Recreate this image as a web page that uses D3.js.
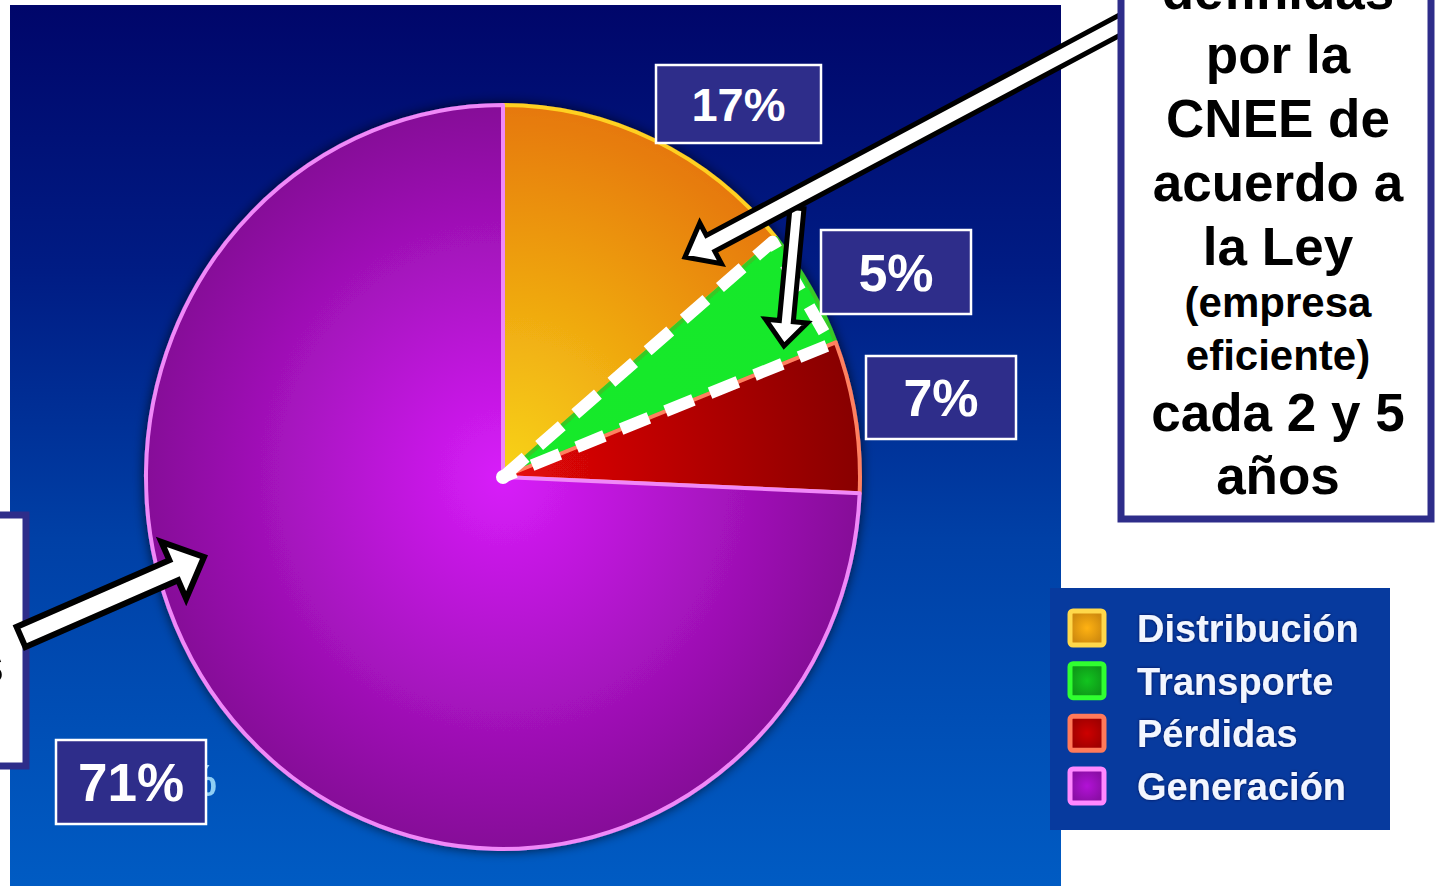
<!DOCTYPE html>
<html>
<head>
<meta charset="utf-8">
<script src="https://cdn.jsdelivr.net/npm/d3@7"></script>
<style>
  html, body { margin: 0; padding: 0; background: #fff; overflow: hidden; }
  svg { display: block; }
  text { font-family: "Liberation Sans", Arial, sans-serif; font-weight: bold; }
</style>
</head>
<body>
<svg id="chart" width="1435" height="886"></svg>
<script>
// Data
const categories = ['Distribución', 'Transporte', 'Pérdidas', 'Generación']
// slice sizes as they are drawn (percent of the full circle)
const sliceShare = [13.9, 5.2, 6.6, 74.3]
// percentages written in the label boxes
const shareLabels = ['17%', '5%', '7%', '71%']
// text of the note box on the right (first line is cut by the top edge)
const noteLines = ['definidas', 'por la', 'CNEE de', 'acuerdo a', 'la Ley', '(empresa', 'eficiente)', 'cada 2 y 5', 'años']
const noteSmall = [false, false, false, false, false, true, true, false, false]

// Styles per category
const sliceStyle = {
  'Distribución': { inner: '#f8d418', outer: '#e67808', rim: '#ffd020', box: '#ffd84a', boxFill: '#f0a010' },
  'Transporte': { inner: '#12ea2a', outer: '#12e82a', rim: '#38c828', box: '#30ff30', boxFill: '#10b01c' },
  'Pérdidas': { inner: '#e80808', outer: '#880000', rim: '#ff8060', box: '#ff7a5a', boxFill: '#b80000' },
  'Generación': { inner: '#d81cfa', outer: '#860c98', rim: '#f088f8', box: '#ff88ff', boxFill: '#a010c0' }
}

const data = categories.map((c, i) => ({ name: c, share: sliceShare[i], label: shareLabels[i] }))

const svg = d3.select('#chart')
const defs = svg.append('defs')

// Background gradient of the slide area
const bg = defs.append('linearGradient').attr('id', 'bgGrad')
  .attr('x1', 0).attr('y1', 0).attr('x2', 0).attr('y2', 1)
bg.selectAll('stop')
  .data([[0, '#00066a'], [0.3, '#001c84'], [0.6, '#0040a6'], [1, '#005cc4']])
  .enter().append('stop')
  .attr('offset', d => d[0]).attr('stop-color', d => d[1])

// One radial gradient per slice, in the unit space of the pie
data.forEach((d, i) => {
  const g = defs.append('radialGradient').attr('id', 'slice' + i)
    .attr('gradientUnits', 'userSpaceOnUse')
    .attr('cx', 0).attr('cy', 0).attr('r', 1)
  g.append('stop').attr('offset', 0).attr('stop-color', sliceStyle[d.name].inner)
  g.append('stop').attr('offset', 1).attr('stop-color', sliceStyle[d.name].outer)

  const lg = defs.append('radialGradient').attr('id', 'legendFill' + i)
  lg.append('stop').attr('offset', 0).attr('stop-color', d3.color(sliceStyle[d.name].boxFill).brighter(0.3))
  lg.append('stop').attr('offset', 1).attr('stop-color', d3.color(sliceStyle[d.name].boxFill).darker(0.4))
})

const shadow = defs.append('filter').attr('id', 'pieShadow')
  .attr('x', -0.1).attr('y', -0.1).attr('width', 1.2).attr('height', 1.2)
shadow.append('feDropShadow').attr('dx', 0).attr('dy', 0)
  .attr('stdDeviation', 6).attr('flood-color', '#000018').attr('flood-opacity', 0.7)

const textShadow = defs.append('filter').attr('id', 'textShadow')
textShadow.append('feDropShadow').attr('dx', 0).attr('dy', 0)
  .attr('stdDeviation', 1.5).attr('flood-color', '#001040').attr('flood-opacity', 0.8)

// Slide background
svg.append('rect')
  .attr('x', 10).attr('y', 5).attr('width', 1051).attr('height', 890)
  .attr('fill', 'url(#bgGrad)')

// Pie (slightly taller than wide, as in the picture)
const cx = 503
const cy = 477
const rx = 357
const ry = 372

const pie = d3.pie().sort(null).value(d => d.share)
const arcs = pie(data)
const arc = d3.arc().innerRadius(0).outerRadius(1)

const pieG = svg.append('g')
  .attr('transform', `translate(${cx},${cy})`)
  .attr('filter', 'url(#pieShadow)')

pieG.append('g')
  .attr('transform', `scale(${rx},${ry})`)
  .selectAll('path')
  .data(arcs)
  .enter()
  .append('path')
  .attr('d', arc)
  .attr('fill', (d, i) => `url(#slice${i})`)
  .attr('stroke', d => sliceStyle[d.data.name].rim)
  .attr('stroke-width', 4)
  .attr('stroke-linejoin', 'round')
  .attr('vector-effect', 'non-scaling-stroke')

// Dashed outline around the Transporte slice
const rimPoint = (a, k) => [Math.sin(a) * rx * k, -Math.cos(a) * ry * k]
const green = arcs[1]
const tri = [[0, 0], rimPoint(green.startAngle, 0.985), rimPoint(green.endAngle, 0.985)]
const dashG = svg.append('g').attr('transform', `translate(${cx},${cy})`)
dashG.append('path')
  .attr('d', d3.line()(tri) + 'Z')
  .attr('fill', 'none')
  .attr('stroke', '#fff')
  .attr('stroke-width', 12)
  .attr('stroke-dasharray', '30 18')
  .attr('stroke-linejoin', 'round')
dashG.append('circle').attr('r', 7).attr('fill', '#fff')

// Block arrow outline
function blockArrow (x0, y0, x1, y1, shaftHalf, headHalf, headLen) {
  const len = Math.hypot(x1 - x0, y1 - y0)
  const ux = (x1 - x0) / len
  const uy = (y1 - y0) / len
  const nx = -uy
  const ny = ux
  const bx = x1 - ux * headLen
  const by = y1 - uy * headLen
  const pts = [
    [x0 + nx * shaftHalf, y0 + ny * shaftHalf],
    [bx + nx * shaftHalf, by + ny * shaftHalf],
    [bx + nx * headHalf, by + ny * headHalf],
    [x1, y1],
    [bx - nx * headHalf, by - ny * headHalf],
    [bx - nx * shaftHalf, by - ny * shaftHalf],
    [x0 - nx * shaftHalf, y0 - ny * shaftHalf]
  ]
  return 'M' + pts.join('L') + 'Z'
}

const drawArrow = (args, sw) => svg.append('path')
  .attr('d', blockArrow(...args))
  .attr('fill', '#fff')
  .attr('stroke', '#000')
  .attr('stroke-width', sw)
  .attr('stroke-linejoin', 'miter')

// Branch pointing down into the green slice, then the long arrow on top
drawArrow([797, 208, 784, 346, 7, 21, 25], 5)
drawArrow([1135, 17, 685, 257, 9, 23, 29], 5)

// Percentage label boxes
const labelBoxes = [
  { x: 656, y: 65, w: 165, h: 78, size: 47 },
  { x: 821, y: 230, w: 150, h: 84, size: 52 },
  { x: 866, y: 356, w: 150, h: 83, size: 52 },
  { x: 56, y: 740, w: 150, h: 84, size: 53 }
]

// faint original label peeking out behind the 71% box
svg.append('text')
  .attr('x', 217).attr('y', 796)
  .attr('text-anchor', 'end')
  .attr('font-size', 44)
  .attr('fill', '#a8e4ff')
  .attr('opacity', 0.85)
  .text(shareLabels[3])

const labels = svg.append('g')
  .selectAll('g')
  .data(data)
  .enter()
  .append('g')
  .attr('transform', (d, i) => `translate(${labelBoxes[i].x},${labelBoxes[i].y})`)

labels.append('rect')
  .attr('width', (d, i) => labelBoxes[i].w)
  .attr('height', (d, i) => labelBoxes[i].h)
  .attr('fill', '#2e2d8a')
  .attr('stroke', '#fff')
  .attr('stroke-width', 2.5)

labels.append('text')
  .attr('x', (d, i) => labelBoxes[i].w / 2)
  .attr('y', (d, i) => labelBoxes[i].h / 2 + labelBoxes[i].size * 0.36)
  .attr('text-anchor', 'middle')
  .attr('font-size', (d, i) => labelBoxes[i].size)
  .attr('fill', '#fff')
  .text(d => d.label)

// Legend
const legend = svg.append('g').attr('transform', 'translate(1050,588)')
legend.append('rect')
  .attr('width', 340).attr('height', 242)
  .attr('fill', '#073a9e')

const rowY = d3.scalePoint().domain(categories).range([40, 198])

const rows = legend.selectAll('g.row')
  .data(data)
  .enter()
  .append('g')
  .attr('class', 'row')
  .attr('transform', d => `translate(0,${rowY(d.name)})`)

rows.append('rect')
  .attr('x', 20).attr('y', -17)
  .attr('width', 34).attr('height', 34)
  .attr('rx', 3)
  .attr('fill', (d, i) => `url(#legendFill${i})`)
  .attr('stroke', d => sliceStyle[d.name].box)
  .attr('stroke-width', 5)

rows.append('text')
  .attr('x', 87).attr('y', 14)
  .attr('font-size', 38)
  .attr('fill', '#f2f6ff')
  .attr('filter', 'url(#textShadow)')
  .text(d => d.name)

// Left note box (mostly outside the picture)
svg.append('rect')
  .attr('x', -20).attr('y', 515).attr('width', 46).attr('height', 251)
  .attr('fill', '#fff')
  .attr('stroke', '#2e2d8a')
  .attr('stroke-width', 7)
svg.append('text')
  .attr('x', 4).attr('y', 683)
  .attr('text-anchor', 'end')
  .attr('font-size', 53)
  .attr('fill', '#000')
  .text('s')

drawArrow([21, 637, 204, 557, 11, 31, 33], 6)

// Right note box
svg.append('rect')
  .attr('x', 1121).attr('y', -20).attr('width', 310).attr('height', 539)
  .attr('fill', '#fff')
  .attr('stroke', '#2e2d8a')
  .attr('stroke-width', 7)

const noteBaselines = [9, 73, 137, 201, 265, 317, 370, 431, 494]
svg.append('g')
  .selectAll('text')
  .data(noteLines)
  .enter()
  .append('text')
  .attr('x', 1278)
  .attr('y', (d, i) => noteBaselines[i])
  .attr('text-anchor', 'middle')
  .attr('font-size', (d, i) => noteSmall[i] ? 42 : 53)
  .attr('fill', '#000')
  .text(d => d)
</script>
</body>
</html>
